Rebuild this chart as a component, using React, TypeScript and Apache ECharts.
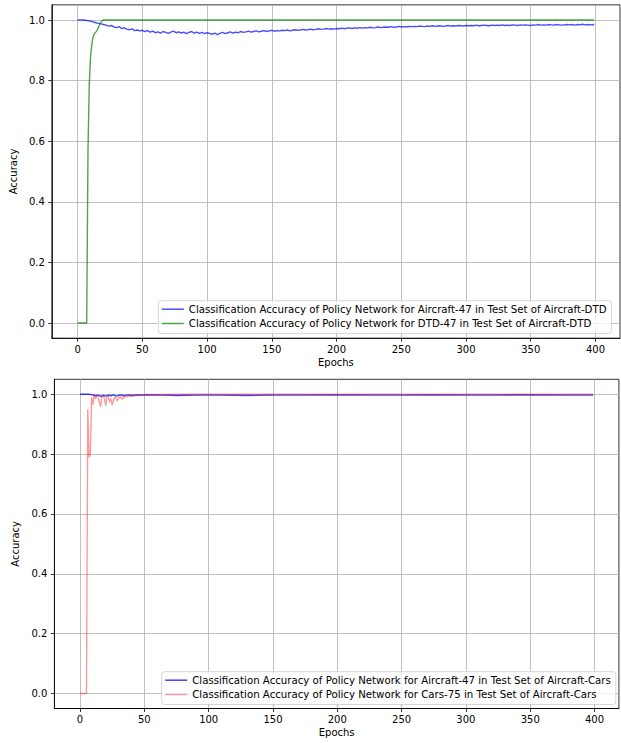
import React, { useEffect, useRef } from "react";
import * as echarts from "echarts";

const FONT = "DejaVu Sans";

const X_TICKS = [0, 50, 100, 150, 200, 250, 300, 350, 400];
const Y_TICKS = [0, 0.2, 0.4, 0.6, 0.8, 1.0];

const TOP_BLUE_NAME = "Classification Accuracy of Policy Network for Aircraft-47 in Test Set of Aircraft-DTD";
const TOP_GREEN_NAME = "Classification Accuracy of Policy Network for DTD-47 in Test Set of Aircraft-DTD";
const BOT_BLUE_NAME = "Classification Accuracy of Policy Network for Aircraft-47 in Test Set of Aircraft-Cars";
const BOT_RED_NAME = "Classification Accuracy of Policy Network for Cars-75 in Test Set of Aircraft-Cars";

// Top blue: one value every 2 epochs (0, 2, ..., 398) and a last one at epoch 399
const TOP_BLUE_VALUES = [
  1.0, 1.0, 1.0, 0.999, 0.998, 0.996, 0.994, 0.991, 0.989, 0.987,
  0.985, 0.983, 0.98, 0.982, 0.977, 0.975, 0.978, 0.972, 0.974, 0.97,
  0.968, 0.971, 0.965, 0.967, 0.964, 0.966, 0.962, 0.965, 0.96, 0.963,
  0.958, 0.961, 0.957, 0.962, 0.959, 0.956, 0.96, 0.963, 0.958, 0.961,
  0.957, 0.96, 0.955, 0.959, 0.962, 0.957, 0.96, 0.956, 0.959, 0.955,
  0.958, 0.956, 0.953, 0.957, 0.952, 0.956, 0.959, 0.955, 0.958, 0.961,
  0.957, 0.96, 0.958, 0.962, 0.959, 0.961, 0.963, 0.96, 0.962, 0.964,
  0.961, 0.963, 0.965, 0.962, 0.964, 0.966, 0.963, 0.965, 0.964, 0.966,
  0.965, 0.967, 0.964, 0.966, 0.968, 0.966, 0.967, 0.969, 0.967, 0.968,
  0.97, 0.968, 0.969, 0.971, 0.969, 0.97, 0.972, 0.97, 0.971, 0.97,
  0.972, 0.971, 0.973, 0.971, 0.973, 0.974, 0.972, 0.974, 0.973, 0.975,
  0.973, 0.975, 0.974, 0.976, 0.974, 0.975, 0.977, 0.975, 0.976, 0.977,
  0.976, 0.978, 0.976, 0.977, 0.979, 0.977, 0.978, 0.977, 0.979, 0.978,
  0.979, 0.978, 0.98, 0.979, 0.978, 0.98, 0.979, 0.981, 0.979, 0.98,
  0.981, 0.979, 0.98, 0.982, 0.98, 0.981, 0.98, 0.982, 0.981, 0.98,
  0.982, 0.981, 0.982, 0.981, 0.983, 0.981, 0.982, 0.983, 0.982, 0.981,
  0.983, 0.982, 0.983, 0.982, 0.984, 0.982, 0.983, 0.982, 0.984, 0.983,
  0.982, 0.984, 0.983, 0.984, 0.983, 0.982, 0.984, 0.983, 0.985, 0.983,
  0.984, 0.983, 0.985, 0.984, 0.983, 0.985, 0.984, 0.983, 0.984, 0.985,
  0.984, 0.985, 0.983, 0.985, 0.984, 0.986, 0.984, 0.985, 0.984, 0.985,
  0.984,
];

const TOP_GREEN_EPOCHS = [0, 7, 8, 9, 10, 11, 12, 13, 14, 15, 16, 17, 18, 19, 20, 399];
const TOP_GREEN_VALUES = [0, 0, 0.57, 0.79, 0.88, 0.92, 0.945, 0.955, 0.96, 0.965, 0.975, 0.985, 0.993, 0.998, 1.0, 1.0];

const BOT_BLUE_EPOCHS = [0, 2, 4, 6, 8, 10, 12, 14, 16, 18, 20, 22, 24, 26, 28, 30, 32, 34, 36, 38, 40, 44, 48, 55, 65, 75, 90, 110, 130, 150, 175, 200, 225, 250, 275, 300, 325, 350, 375, 399];
const BOT_BLUE_VALUES = [1.0, 1.0, 1.0, 1.0, 0.999, 0.998, 0.995, 0.997, 0.993, 0.996, 0.994, 0.997, 0.995, 0.998, 0.994, 0.996, 0.998, 0.995, 0.997, 0.998, 0.996, 0.998, 0.997, 0.998, 0.997, 0.996, 0.997, 0.997, 0.996, 0.997, 0.997, 0.998, 0.997, 0.997, 0.998, 0.997, 0.997, 0.998, 0.997, 0.997];

const BOT_RED_EPOCHS = [0, 5, 6, 7, 8, 9, 10, 11, 12, 13, 14, 15, 16, 17, 18, 19, 20, 21, 22, 23, 24, 25, 26, 27, 28, 29, 30, 31, 32, 33, 34, 35, 36, 37, 38, 39, 40, 42, 44, 46, 48, 50, 60, 80, 100, 150, 200, 250, 300, 350, 399];
const BOT_RED_VALUES = [0, 0, 0.95, 0.79, 0.8, 0.99, 0.965, 0.998, 0.985, 0.995, 0.99, 0.975, 0.958, 0.996, 0.994, 0.985, 0.962, 0.99, 0.993, 0.975, 0.985, 0.963, 0.98, 0.99, 0.985, 0.978, 0.99, 0.987, 0.992, 0.983, 0.99, 0.994, 0.99, 0.993, 0.995, 0.992, 0.996, 0.994, 0.997, 0.996, 0.998, 0.999, 0.999, 1.0, 1.0, 1.0, 1.0, 1.0, 1.0, 1.0, 1.0];

const TOP_BLUE_STEP = 2;

function pairs(xs: number[], ys: number[]) {
  return ys.map((y, i) => [xs[i], y]);
}

function xAxisCfg(gridIndex: number) {
  return {
    type: "value",
    gridIndex,
    min: -19.95,
    max: 418.95,
    name: "Epochs",
    nameLocation: "middle",
    nameGap: 19,
    nameTextStyle: { fontFamily: FONT, fontSize: 10, color: "#000" },
    axisLine: { show: true, onZero: false, lineStyle: { color: "#000", width: 0.8 } },
    axisTick: { show: true, inside: false, length: 3.5, lineStyle: { color: "#000", width: 0.8 }, customValues: X_TICKS },
    axisLabel: { fontFamily: FONT, fontSize: 10, color: "#000", margin: 6, customValues: X_TICKS, formatter: (v: number) => String(v) },
    splitLine: { show: true, lineStyle: { color: "#b0b0b0", width: 0.8 } },
  };
}

function yAxisCfg(gridIndex: number) {
  return {
    type: "value",
    gridIndex,
    min: -0.05,
    max: 1.05,
    name: "Accuracy",
    nameLocation: "middle",
    nameGap: 25,
    nameTextStyle: { fontFamily: FONT, fontSize: 10, color: "#000" },
    axisLine: { show: true, onZero: false, lineStyle: { color: "#000", width: 0.8 } },
    axisTick: { show: true, inside: false, length: 3.5, lineStyle: { color: "#000", width: 0.8 }, customValues: Y_TICKS },
    axisLabel: { fontFamily: FONT, fontSize: 10, color: "#000", margin: 7, customValues: Y_TICKS, formatter: (v: number) => v.toFixed(1) },
    splitLine: { show: true, lineStyle: { color: "#b0b0b0", width: 0.8 } },
  };
}

function legendCfg(names: string[], left: number, top: number) {
  return {
    data: names,
    orient: "vertical",
    left,
    top,
    icon: "rect",
    itemWidth: 22,
    itemHeight: 1.5,
    itemGap: 2.3,
    itemTextGap: 8.5,
    padding: [2.5, 5, 4, 3.5],
    backgroundColor: "rgba(255,255,255,0.8)",
    borderColor: "#cccccc",
    borderWidth: 0.8,
    borderRadius: 3,
    selectedMode: false,
    textStyle: { fontFamily: FONT, fontSize: 10.2, color: "#000", lineHeight: 12 },
  };
}

export default function App() {
  const ref = useRef<HTMLDivElement>(null);
  useEffect(() => {
    if (!ref.current) return;
    const chart = echarts.init(ref.current, undefined, { renderer: "svg" });
    const topBlue = TOP_BLUE_VALUES.map((v, i) => [Math.min(i * TOP_BLUE_STEP, 399), v]);
    chart.setOption({
      animation: false,
      backgroundColor: "#fff",
      grid: [
        { left: 49.5, top: 4.85, width: 570.5, height: 333.3, show: true, borderColor: "#000", borderWidth: 0.8, backgroundColor: "transparent" },
        { left: 54.4, top: 379.3, width: 564.5, height: 329.2, show: true, borderColor: "#000", borderWidth: 0.8, backgroundColor: "transparent" },
      ],
      xAxis: [xAxisCfg(0), xAxisCfg(1)],
      yAxis: [yAxisCfg(0), yAxisCfg(1)],
      legend: [
        legendCfg([TOP_BLUE_NAME, TOP_GREEN_NAME], 158.3, 300.7),
        legendCfg([BOT_BLUE_NAME, BOT_RED_NAME], 161.7, 671.7),
      ],
      series: [
        {
          name: TOP_BLUE_NAME, type: "line", xAxisIndex: 0, yAxisIndex: 0, data: topBlue,
          showSymbol: false, symbol: "none", color: "rgba(0,0,255,0.7)", lineStyle: { width: 1.4, color: "rgba(0,0,255,0.7)" },
        },
        {
          name: TOP_GREEN_NAME, type: "line", xAxisIndex: 0, yAxisIndex: 0, data: pairs(TOP_GREEN_EPOCHS, TOP_GREEN_VALUES),
          showSymbol: false, symbol: "none", color: "rgba(0,128,0,0.7)", lineStyle: { width: 1.4, color: "rgba(0,128,0,0.7)" },
        },
        {
          name: BOT_BLUE_NAME, type: "line", xAxisIndex: 1, yAxisIndex: 1, data: pairs(BOT_BLUE_EPOCHS, BOT_BLUE_VALUES),
          showSymbol: false, symbol: "none", color: "rgba(0,0,255,0.75)", lineStyle: { width: 1.4, color: "rgba(0,0,255,0.75)" },
        },
        {
          name: BOT_RED_NAME, type: "line", xAxisIndex: 1, yAxisIndex: 1, data: pairs(BOT_RED_EPOCHS, BOT_RED_VALUES),
          showSymbol: false, symbol: "none", color: "rgba(255,0,0,0.4)", lineStyle: { width: 1.4, color: "rgba(255,0,0,0.4)" },
        },
      ],
    });
    return () => chart.dispose();
  }, []);
  return (
    <div
      ref={ref}
      style={{ position: "absolute", left: 0, top: 0, width: 621, height: 743 }}
    />
  );
}
